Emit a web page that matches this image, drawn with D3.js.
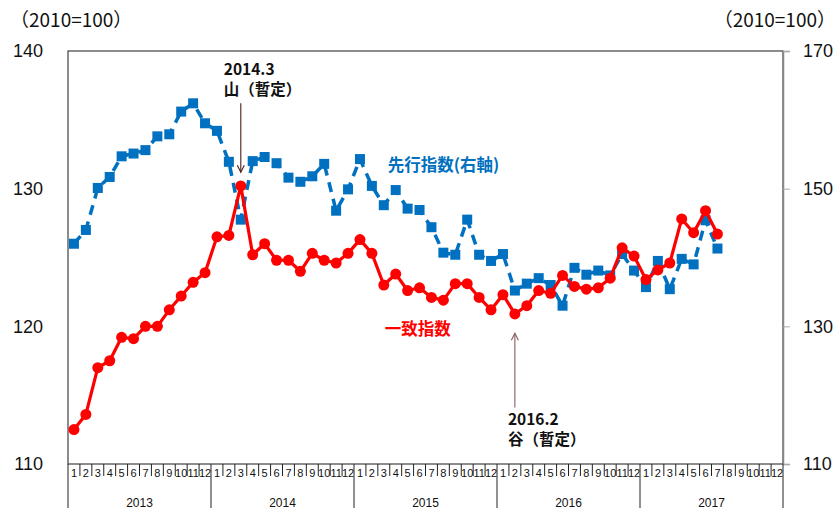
<!DOCTYPE html>
<html>
<head>
<meta charset="utf-8">
<script src="https://cdn.jsdelivr.net/npm/d3@7"></script>
<style>
  body { margin: 0; background: #fff; }
  svg { display: block; }
</style>
</head>
<body>
<svg id="chart" width="839" height="513"></svg>
<script>
const YEARS = [2013, 2014, 2015, 2016, 2017]
const MONTHS = d3.range(1, 13)

// 先行指数 (right axis), Jan 2013 – Jul 2017
const leading = [
  142.0, 144.0, 150.1, 151.7, 154.7, 155.1, 155.6, 157.6, 157.9, 161.2, 162.4, 159.5,
  158.4, 153.9, 145.5, 154.0, 154.6, 153.7, 151.6, 151.0, 151.8, 153.6, 146.8, 149.9,
  154.3, 150.4, 147.6, 149.8, 147.1, 146.9, 144.4, 140.7, 140.4, 145.5, 140.4, 139.5,
  140.5, 135.2, 136.2, 137.0, 136.0, 133.0, 138.5, 137.5, 138.1, 137.4, 140.5, 138.1,
  135.7, 139.5, 135.4, 139.8, 139.0, 145.4, 141.3
]

// 一致指数 (left axis), Jan 2013 – Jul 2017
const coincident = [
  112.5, 113.6, 117.0, 117.5, 119.2, 119.1, 120.0, 120.0, 121.2, 122.2, 123.2, 123.9,
  126.5, 126.6, 130.2, 125.2, 126.0, 124.8, 124.8, 124.0, 125.3, 124.8, 124.6, 125.3,
  126.3, 125.3, 123.0, 123.8, 122.6, 122.8, 122.1, 121.9, 123.1, 123.1, 122.1, 121.2,
  122.3, 120.9, 121.5, 122.6, 122.4, 123.7, 122.9, 122.7, 122.8, 123.5, 125.7, 125.1,
  123.4, 124.1, 124.6, 127.8, 126.8, 128.4, 126.7
]

const leftTicks = [110, 120, 130, 140]
const rightTicks = [110, 130, 150, 170]

// turning points: month key, label lines, arrow span on the left axis
const turningPoints = [
  { key: '2014-3', lines: ['2014.3', '山（暫定）'], from: 136.2, to: 131.2, dx: -17, color: '#4a1f1f' },
  { key: '2016-2', lines: ['2016.2', '谷（暫定）'], from: 114.1, to: 119.5, dx: -7, color: '#8a5a5a' }
]

const W = 839, H = 513
const margin = { top: 51, right: 56, bottom: 49, left: 68 }
const innerB = H - margin.bottom
const innerR = W - margin.right

const svg = d3.select('#chart')
const NUM_FONT = '"Liberation Sans", Arial, sans-serif'
const JP_FONT = '"Noto Sans CJK JP", "Noto Sans", sans-serif'

const monthKeys = YEARS.flatMap(y => MONTHS.map(m => `${y}-${m}`))
const x = d3.scaleBand().domain(monthKeys).range([margin.left, innerR]).padding(0)
const cx = i => x(monthKeys[i]) + x.bandwidth() / 2

const yL = d3.scaleLinear().domain([110, 140]).range([innerB, margin.top])
const yR = d3.scaleLinear().domain([110, 170]).range([innerB, margin.top])

// frame
svg.append('rect')
  .attr('x', margin.left).attr('y', margin.top)
  .attr('width', innerR - margin.left).attr('height', innerB - margin.top)
  .attr('fill', 'none').attr('stroke', '#404040').attr('stroke-width', 1.2)

// left axis (labels only)
const gL = svg.append('g').attr('transform', `translate(${margin.left},0)`)
  .call(d3.axisLeft(yL).tickValues(leftTicks).tickSize(0).tickPadding(25))
gL.select('.domain').remove()
gL.selectAll('text').attr('font-family', NUM_FONT).attr('font-size', 18).attr('fill', '#111')

// right axis
const gR = svg.append('g').attr('transform', `translate(${innerR},0)`)
  .call(d3.axisRight(yR).tickValues(rightTicks).tickSize(7).tickPadding(13))
gR.select('.domain').attr('stroke', '#888').attr('stroke-width', 1.5)
gR.selectAll('.tick line').attr('stroke', '#aaa')
gR.selectAll('text').attr('font-family', NUM_FONT).attr('font-size', 18).attr('fill', '#111')

// unit labels
svg.append('text').attr('x', 10).attr('y', 27)
  .attr('font-family', JP_FONT).attr('font-size', 19).attr('fill', '#111')
  .text('（2010=100）')
svg.append('text').attr('x', W - 3).attr('y', 27).attr('text-anchor', 'end')
  .attr('font-family', JP_FONT).attr('font-size', 19).attr('fill', '#111')
  .text('（2010=100）')

// month / year axis
const gX = svg.append('g')
gX.selectAll('line.m')
  .data(d3.range(1, monthKeys.length).filter(i => i % 12 !== 0))
  .join('line').attr('class', 'm')
  .attr('x1', i => x(monthKeys[i])).attr('x2', i => x(monthKeys[i]))
  .attr('y1', innerB).attr('y2', innerB + 12)
  .attr('stroke', '#222').attr('stroke-width', 1)
gX.selectAll('line.y')
  .data(d3.range(0, monthKeys.length + 1, 12))
  .join('line').attr('class', 'y')
  .attr('x1', i => i < monthKeys.length ? x(monthKeys[i]) : innerR)
  .attr('x2', i => i < monthKeys.length ? x(monthKeys[i]) : innerR)
  .attr('y1', innerB).attr('y2', innerB + 44)
  .attr('stroke', '#222').attr('stroke-width', 1)
gX.selectAll('text.m')
  .data(monthKeys)
  .join('text').attr('class', 'm')
  .attr('x', d => x(d) + x.bandwidth() / 2).attr('y', innerB + 13)
  .attr('text-anchor', 'middle')
  .attr('font-family', NUM_FONT).attr('font-size', 11).attr('fill', '#111')
  .text(d => d.split('-')[1])
gX.selectAll('text.y')
  .data(YEARS)
  .join('text').attr('class', 'y')
  .attr('x', y => x(`${y}-1`) + 6 * x.bandwidth()).attr('y', innerB + 43)
  .attr('text-anchor', 'middle')
  .attr('font-family', NUM_FONT).attr('font-size', 12).attr('fill', '#111')
  .text(y => y)

// leading index (dashed, squares)
const BLUE = '#0070c0'
svg.append('path')
  .datum(leading)
  .attr('fill', 'none').attr('stroke', BLUE).attr('stroke-width', 3.5)
  .attr('stroke-dasharray', '10,7')
  .attr('d', d3.line().x((d, i) => cx(i)).y(d => yR(d)))
svg.append('g').selectAll('rect')
  .data(leading)
  .join('rect')
  .attr('x', (d, i) => cx(i) - 5).attr('y', d => yR(d) - 5)
  .attr('width', 10).attr('height', 10)
  .attr('fill', BLUE)

// coincident index (solid, circles)
const RED = '#ff0000'
svg.append('path')
  .datum(coincident)
  .attr('fill', 'none').attr('stroke', RED).attr('stroke-width', 3.2)
  .attr('stroke-linejoin', 'round')
  .attr('d', d3.line().x((d, i) => cx(i)).y(d => yL(d)))
svg.append('g').selectAll('circle')
  .data(coincident)
  .join('circle')
  .attr('cx', (d, i) => cx(i)).attr('cy', d => yL(d))
  .attr('r', 5.5)
  .attr('fill', RED)

// series labels
svg.append('text')
  .attr('x', cx(monthKeys.indexOf('2015-3')) + 4).attr('y', yR(152.5))
  .attr('font-family', JP_FONT).attr('font-size', 16.5).attr('font-weight', 700)
  .attr('fill', BLUE).text('先行指数(右軸)')
svg.append('text')
  .attr('x', cx(monthKeys.indexOf('2015-3')) + 1).attr('y', yL(119.4))
  .attr('font-family', JP_FONT).attr('font-size', 16.5).attr('font-weight', 700)
  .attr('fill', RED).text('一致指数')

// turning point annotations
turningPoints.forEach(tp => {
  const ax = cx(monthKeys.indexOf(tp.key))
  const y0 = yL(tp.from), y1 = yL(tp.to)
  const dir = y1 > y0 ? -1 : 1
  const g = svg.append('g').attr('stroke', tp.color).attr('stroke-width', 1.1).attr('fill', 'none')
  g.append('line').attr('x1', ax).attr('x2', ax).attr('y1', y0).attr('y2', y1)
  g.append('path').attr('d', `M${ax - 3.5},${y1 + dir * 7}L${ax},${y1}L${ax + 3.5},${y1 + dir * 7}`)

  svg.append('g').selectAll('text')
    .data(tp.lines)
    .join('text')
    .attr('x', ax + tp.dx)
    .attr('y', (d, i) => (dir < 0 ? y0 - 28 : y0 + 17) + i * 20)
    .attr('font-family', JP_FONT).attr('font-size', 15.5).attr('font-weight', 700)
    .attr('fill', '#111')
    .text(d => d)
})
</script>
</body>
</html>
